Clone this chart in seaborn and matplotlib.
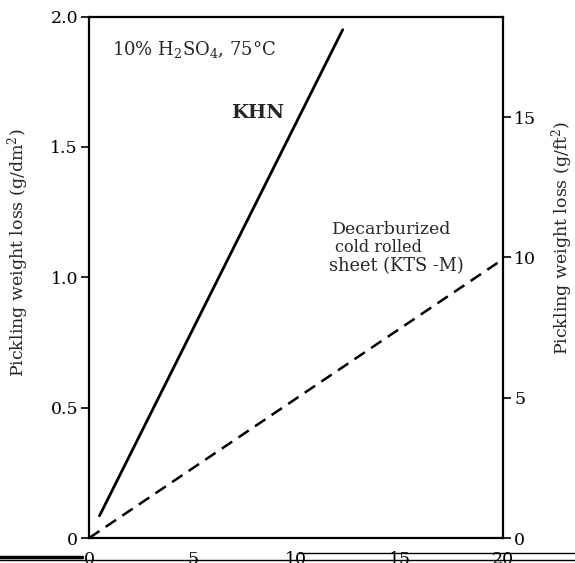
import numpy as np
import matplotlib
matplotlib.use("Agg")
import matplotlib.pyplot as plt
import seaborn as sns
from matplotlib.lines import Line2D

# pickling time (x) vs weight loss (g/dm2)
khn_x = [0.5, 12.25]
khn_y = [0.085, 1.95]
kts_x = [0, 20]
kts_y = [0.0, 1.07]

x_ticks = [0, 5, 10, 15, 20]
left_ticks = [0, 0.5, 1.0, 1.5, 2.0]
left_labels = ["0", "0.5", "1.0", "1.5", "2.0"]
right_ticks = [0, 5, 10, 15]
DM2_PER_FT2 = 9.290

sns.set_theme(style="white")
plt.rcParams["font.family"] = ["DejaVu Serif"]
plt.rcParams["mathtext.fontset"] = "dejavuserif"

fig = plt.figure(figsize=(5.75, 5.63), dpi=100)
ax = fig.add_axes([0.155, 0.0444, 0.72, 0.926])

sns.lineplot(x=khn_x, y=khn_y, ax=ax, color="black", lw=2.0)
sns.lineplot(x=kts_x, y=kts_y, ax=ax, color="black", lw=1.8, linestyle=(0, (5, 3)))

ax.set_xlim(0, 20)
ax.set_ylim(0, 2.0)
ax.set_xticks(x_ticks)
ax.set_xticklabels([str(t) for t in x_ticks])
ax.set_yticks(left_ticks)
ax.set_yticklabels(left_labels)
for s in ax.spines.values():
    s.set_color("black")
    s.set_linewidth(1.6)
ax.tick_params(axis="y", direction="out", length=6, width=1.2, labelsize=12.5, colors="black", pad=2)
ax.tick_params(axis="x", direction="in", length=6, width=1.2, labelsize=12.5, colors="black", pad=9)

ax2 = ax.twinx()
ax2.set_ylim(0, 2.0 * DM2_PER_FT2)
ax2.set_yticks(right_ticks)
ax2.set_yticklabels([str(t) for t in right_ticks])
ax2.tick_params(axis="y", direction="out", length=6, width=1.2, labelsize=12.5, colors="black", pad=2)
for s in ax2.spines.values():
    s.set_visible(False)
ax2.grid(False)

# axis titles placed on the figure so they sit where the scan has them
fig.text(18 / 575, 1 - 253 / 563, "Pickling weight loss (g/dm$^2$)", rotation=90,
         ha="center", va="center", fontsize=12.5)
fig.text(562 / 575, 1 - 238 / 563, "Pickling weight loss (g/ft$^2$)", rotation=90,
         ha="center", va="center", fontsize=12.5)

ax.text(1.1, 1.875, "10% H$_2$SO$_4$, 75°C", fontsize=13, va="center", ha="left")
ax.text(6.85, 1.63, "KHN", fontsize=14, fontweight="bold", va="center", ha="left")
ax.text(11.75, 1.185, "Decarburized", fontsize=12.5, va="center", ha="left")
ax.text(11.9, 1.115, "cold rolled", fontsize=11.5, va="center", ha="left")
ax.text(11.6, 1.045, "sheet (KTS -M)", fontsize=12.8, va="center", ha="left")

# scan rule lines along the bottom edge
fig.add_artist(Line2D([0.0, 0.143], [0.011, 0.011], color="black", lw=2.5, transform=fig.transFigure))
fig.add_artist(Line2D([0.0, 1.0], [0.006, 0.006], color="black", lw=1.0, transform=fig.transFigure))
fig.add_artist(Line2D([0.52, 1.0], [0.017, 0.017], color="black", lw=1.0, transform=fig.transFigure))

fig.savefig("out.png", dpi=100)
